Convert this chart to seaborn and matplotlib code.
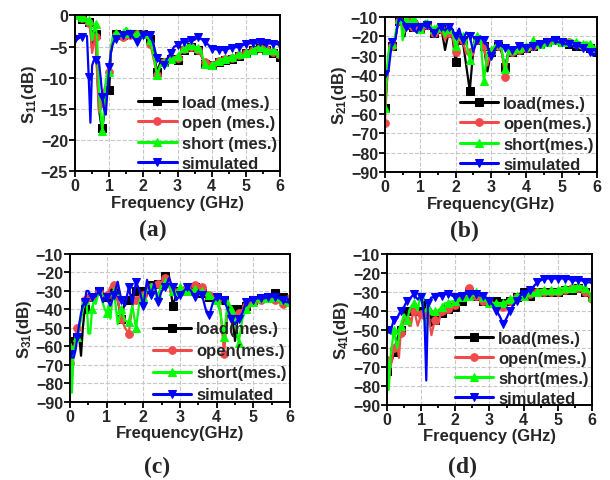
import numpy as np
import pandas as pd
import matplotlib
matplotlib.use("Agg")
import matplotlib.pyplot as plt
import seaborn as sns

# frequency grid (GHz), shared by all four panels
FREQ = [0.0, 0.05, 0.1, 0.15, 0.2, 0.25, 0.3, 0.35, 0.4, 0.45, 0.5, 0.55,
        0.6, 0.65, 0.7, 0.75, 0.8, 0.85, 0.9, 0.95, 1.0, 1.05, 1.1, 1.15, 1.2,
        1.3, 1.4, 1.5, 1.6, 1.7, 1.8, 1.9,
        2.0, 2.1, 2.2, 2.3, 2.4, 2.5, 2.6, 2.7, 2.8, 2.9,
        3.0, 3.1, 3.2, 3.3, 3.4, 3.5, 3.6, 3.7, 3.8, 3.9,
        4.0, 4.1, 4.2, 4.3, 4.4, 4.5, 4.6, 4.7, 4.8, 4.9,
        5.0, 5.1, 5.2, 5.3, 5.4, 5.5, 5.6, 5.7, 5.8, 5.9,
        6.0]

# (a) S11
s11_load = [0, -0.2, -0.3, -0.4, -0.5, -0.5, -0.6, -0.8, -1.0, -2.0, -5.5, -4.0,
            -3.0, -9.0, -15.0, -17.0, -18.0, -16.0, -12.5, -12.0, -12.0, -6.0, -4.0, -3.2, -3.0,
            -3.0, -3.2, -3.5, -3.0, -3.2, -3.0, -2.8,
            -3.0, -3.2, -3.8, -6.0, -9.0, -7.5, -7.5, -7.3, -7.0, -7.0,
            -7.2, -6.0, -5.5, -5.0, -5.0, -5.2, -5.5, -6.5, -7.8, -8.5,
            -8.0, -7.8, -7.5, -7.5, -7.2, -7.0, -7.0, -6.8, -6.5, -6.3,
            -6.0, -5.8, -5.5, -5.3, -5.2, -5.3, -5.5, -5.8, -6.0, -6.2,
            -6.7]
s11_open = [0, -0.2, -0.3, -0.3, -0.4, -0.5, -0.5, -0.7, -1.2, -2.5, -6.0, -4.5,
            -3.5, -10.0, -15.5, -15.0, -14.0, -12.0, -11.0, -10.5, -9.0, -5.0, -4.0, -3.5, -3.2,
            -3.3, -3.5, -3.8, -3.2, -3.0, -3.0, -3.0,
            -3.0, -3.3, -4.5, -7.0, -9.5, -8.0, -7.5, -7.2, -7.0, -6.8,
            -6.8, -6.0, -5.3, -5.0, -5.0, -5.0, -5.5, -6.5, -7.5, -8.3,
            -8.0, -7.5, -7.3, -7.2, -7.0, -7.0, -6.8, -6.5, -6.3, -6.2,
            -6.0, -5.7, -5.5, -5.3, -5.2, -5.2, -5.4, -5.6, -5.8, -6.0,
            -6.3]
s11_short = [0, 0, -0.2, -0.3, -0.3, -0.3, -0.4, -0.5, -0.8, -1.5, -4.0, -2.5,
             -1.3, -4.0, -12.0, -16.0, -18.5, -15.0, -10.5, -9.5, -9.0, -5.5, -3.5, -3.0, -2.8,
             -3.0, -2.8, -2.0, -2.8, -3.0, -3.0, -2.8,
             -3.0, -3.2, -4.0, -6.5, -9.5, -8.0, -7.5, -7.2, -7.0, -6.8,
             -6.5, -5.8, -5.2, -4.8, -4.8, -5.0, -5.2, -6.0, -7.8, -8.3,
             -8.0, -7.6, -7.3, -7.0, -7.0, -6.8, -6.6, -6.5, -6.2, -6.5,
             -6.0, -5.8, -5.5, -5.2, -5.0, -5.2, -5.5, -5.6, -5.6, -5.8,
             -6.0]
s11_sim = [-3.8, -3.9, -3.7, -3.5, -3.4, -3.3, -3.2, -3.3, -9.8, -17.2, -8.0, -7.2,
           -7.2, -7.3, -7.4, -10.0, -13.0, -15.0, -15.9, -12.0, -8.2, -6.0, -4.7, -4.0, -3.7,
           -3.4, -3.2, -3.0, -2.9, -3.5, -4.2, -3.5,
           -3.1, -3.1, -3.1, -4.7, -6.9, -7.5, -7.9, -6.9, -6.0, -5.0,
           -4.8, -4.2, -4.3, -4.2, -4.0, -3.9, -3.4, -3.8, -4.2, -4.7,
           -5.3, -5.4, -5.5, -5.5, -5.5, -5.3, -5.2, -5.1, -5.0, -4.8,
           -4.6, -4.5, -4.4, -4.4, -4.3, -4.4, -4.4, -4.5, -4.5, -4.6,
           -4.7]

# (b) S21
s21_load = [-57, -45, -30, -27, -25, -24, -20, -15, -12, -11, -15, -20,
            -14, -12, -11, -13, -15, -14, -12, -14, -16, -15, -14, -13, -14,
            -15, -18, -15, -16, -27, -18, -19,
            -33, -20, -22, -35, -48, -27, -22, -22, -25, -38,
            -28, -26, -25, -28, -36, -27, -28, -27, -27, -26,
            -26, -26, -25, -25, -24, -23, -23, -22, -22, -23,
            -23, -23, -24, -24, -25, -25, -25, -25, -26, -27,
            -28]
s21_open = [-64.5, -45, -30, -27, -25, -24, -20, -15, -12, -11, -14, -18,
            -14, -12, -11, -13, -15, -14, -12, -14, -16, -15, -14, -13, -14,
            -15, -18, -15, -16, -22, -18, -19,
            -28, -20, -22, -29, -28, -25, -22, -22, -25, -35,
            -28, -26, -25, -27, -41, -28, -28, -27, -27, -26,
            -26, -26, -25, -25, -24, -23, -23, -22, -22, -23,
            -23, -23, -23, -24, -24, -25, -25, -25, -26, -26,
            -27]
s21_short = [-56.8, -40, -28, -25, -24, -24, -18, -14, -11, -12, -22, -16,
             -11, -12, -14, -12, -11, -10, -13, -15, -16, -14, -13, -12, -13,
             -15, -16, -14, -15, -20, -16, -17,
             -25, -18, -20, -23, -32, -25, -20, -20, -43, -28,
             -27, -25, -24, -26, -37, -27, -27, -26, -26, -25,
             -25, -24, -22, -24, -24, -23, -23, -22, -22, -22,
             -23, -22, -23, -22, -23, -23, -24, -23, -24, -25,
             -26]
s21_sim = [-39.6, -39, -38, -30, -23, -22, -21, -15, -10, -11, -12, -13,
           -15, -16, -14, -15, -15, -17, -18, -16, -15, -14, -14, -15, -14,
           -16, -18, -16, -15, -17, -15, -16,
           -20, -16, -22, -18, -20, -28, -22, -20, -22, -25,
           -30, -27, -24, -25, -26, -26, -27, -26, -25, -25,
           -26, -25, -25, -24, -24, -23, -23, -22, -22, -23,
           -23, -24, -24, -25, -25, -25, -26, -27, -28, -30,
           -28]

# (c) S31
s31_load = [-57, -58, -60, -57, -55, -55, -65, -50, -40, -33, -32, -32,
            -33, -35, -35, -32, -30, -31, -32, -33, -33, -32, -30, -30, -30,
            -35, -45, -35, -35, -32, -30, -32,
            -30, -28, -27, -28, -26, -25, -22, -22, -38, -32,
            -30, -30, -30, -29, -28, -30, -31, -32, -33, -33,
            -33, -34, -35, -38, -40, -57, -40, -40, -38, -36,
            -35, -35, -34, -34, -33, -32, -31, -32, -33, -34,
            -35]
s31_open = [-69, -65, -62, -55, -50, -48, -45, -40, -35, -33, -32, -32,
            -33, -34, -33, -32, -30, -31, -32, -32, -32, -30, -28, -27, -27,
            -35, -45, -50, -53, -38, -35, -33,
            -32, -30, -28, -27, -26, -25, -23, -24, -30, -30,
            -30, -28, -29, -27, -27, -27, -28, -30, -32, -33,
            -35, -40, -64, -40, -42, -45, -42, -40, -38, -37,
            -36, -35, -35, -34, -34, -34, -35, -36, -37, -35,
            -34]
s31_short = [-60, -85, -62, -58, -55, -50, -45, -40, -35, -35, -53, -53,
             -40, -35, -37, -33, -30, -33, -37, -40, -42, -38, -45, -35, -30,
             -48, -40, -46, -47, -38, -50, -35,
             -33, -30, -28, -31, -32, -27, -25, -28, -30, -32,
             -28, -29, -30, -30, -29, -30, -30, -31, -32, -34,
             -35, -42, -55, -35, -40, -45, -58, -45, -40, -38,
             -36, -35, -34, -34, -34, -33, -33, -34, -35, -36,
             -36]
s31_sim = [-64, -66, -66, -62, -55, -48, -42, -38, -36, -30, -30, -32,
           -33, -33, -33, -31, -30, -33, -36, -34, -33, -36, -38, -35, -32,
           -25, -35, -38, -28, -37, -25, -30,
           -38, -24, -32, -26, -36, -30, -28, -23, -28, -35,
           -32, -30, -28, -30, -33, -30, -32, -40, -43, -36,
           -33, -34, -35, -40, -45, -48, -45, -42, -36, -35,
           -35, -34, -34, -34, -33, -33, -33, -34, -35, -36,
           -36]

# (d) S41
s41_load = [-72, -70, -68, -66, -62, -58, -55, -52, -50, -47, -45, -43,
            -40, -41, -40, -40, -40, -39, -38, -39, -40, -38, -35, -40, -42,
            -48, -45, -42, -41, -40, -39, -38,
            -38, -37, -35, -33, -30, -31, -32, -34, -35, -35,
            -35, -35, -35, -35, -36, -35, -35, -34, -33, -31,
            -30, -31, -32, -31, -30, -30, -30, -30, -30, -30,
            -30, -29, -29, -29, -29, -28, -28, -29, -30, -31,
            -33]
s41_open = [-66, -78, -70, -66, -60, -58, -58, -65, -52, -48, -45, -44,
            -45, -48, -48, -42, -40, -44, -48, -45, -42, -44, -45, -42, -40,
            -53, -45, -47, -40, -40, -39, -38,
            -37, -35, -33, -30, -28, -30, -32, -34, -35, -36,
            -36, -37, -37, -38, -38, -36, -35, -34, -33, -32,
            -32, -31, -31, -30, -30, -30, -30, -30, -30, -30,
            -30, -29, -29, -28, -28, -28, -28, -29, -30, -32,
            -34]
s41_short = [-68, -82, -65, -58, -50, -55, -60, -54, -48, -45, -42, -44,
             -45, -40, -38, -37, -36, -38, -40, -35, -32, -38, -45, -62, -38,
             -42, -40, -40, -38, -36, -36, -35,
             -35, -34, -33, -32, -32, -31, -30, -32, -33, -35,
             -36, -36, -36, -36, -36, -35, -34, -33, -32, -32,
             -32, -31, -30, -31, -30, -29, -29, -30, -29, -29,
             -29, -28, -28, -28, -28, -27, -27, -27, -28, -30,
             -33]
s41_sim = [-50, -51, -52, -48, -45, -44, -44, -42, -40, -39, -38, -36,
           -35, -34, -33, -32, -31, -33, -34, -33, -33, -38, -45, -77, -36,
           -33, -33, -32, -32, -31, -31, -32,
           -33, -32, -32, -31, -31, -31, -31, -32, -32, -33,
           -35, -37, -40, -43, -47, -44, -40, -37, -35, -32,
           -31, -30, -29, -27, -25, -24, -23, -23, -23, -23,
           -23, -23, -23, -23, -24, -24, -24, -24, -25, -25,
           -25]

SERIES = ["load", "open", "short", "simulated"]
COLORS = ["#000000", "#F24A4A", "#00FF00", "#0000FF"]
MARKERS = ["s", "o", "^", "v"]

sns.set_theme(style="ticks")
plt.rcParams["font.family"] = ["Liberation Sans", "DejaVu Sans"]
plt.rcParams["font.weight"] = "bold"
plt.rcParams["axes.labelweight"] = "bold"
plt.rcParams["mathtext.fontset"] = "custom"
plt.rcParams["mathtext.rm"] = "Liberation Sans:bold"
plt.rcParams["mathtext.bf"] = "Liberation Sans:bold"
plt.rcParams["mathtext.default"] = "bf"

fig = plt.figure(figsize=(6.1, 4.81), dpi=100)

panels = [
    dict(rect=[0.1230, 0.6418, 0.3361, 0.3239], data=[s11_load, s11_open, s11_short, s11_sim],
         ylab=r"S$_{11}$(dB)", xlab="Frequency (GHz)", ylim=(-25, 0), ystep=5,
         labels=["load (mes.)", "open (mes.)", "short (mes.)", "simulated"], tag="(a)",
         tagpos=(0.251, 0.520), anchor=(1.0, -0.02), spacing=0.33),
    dict(rect=[0.6311, 0.6397, 0.3475, 0.3229], data=[s21_load, s21_open, s21_short, s21_sim],
         ylab=r"S$_{21}$(dB)", xlab="Frequency(GHz)", ylim=(-90, -10), ystep=10,
         labels=["load(mes.)", "open(mes.)", "short(mes.)", "simulated"], tag="(b)",
         tagpos=(0.762, 0.518), anchor=(1.0, -0.02), spacing=0.33),
    dict(rect=[0.1148, 0.1622, 0.3607, 0.3077], data=[s31_load, s31_open, s31_short, s31_sim],
         ylab=r"S$_{31}$(dB)", xlab="Frequency(GHz)", ylim=(-90, -10), ystep=10,
         labels=["load(mes.)", "open(mes.)", "short(mes.)", "simulated"], tag="(c)",
         tagpos=(0.257, 0.029), anchor=(1.0, -0.025), spacing=0.42),
    dict(rect=[0.6344, 0.1559, 0.3361, 0.3139], data=[s41_load, s41_open, s41_short, s41_sim],
         ylab=r"S$_{41}$(dB)", xlab="Frequency (GHz)", ylim=(-90, -10), ystep=10,
         labels=["load(mes.)", "open(mes.)", "short(mes.)", "simulated"], tag="(d)",
         tagpos=(0.759, 0.029), anchor=(1.0, -0.03), spacing=0.3),
]

# markers every 0.2 GHz
mark_idx = [i for i, f in enumerate(FREQ) if round(f * 10) % 2 == 0 and abs(f * 10 - round(f * 10)) < 1e-6]

for p in panels:
    ax = fig.add_axes(p["rect"])
    frames = []
    for name, vals in zip(SERIES, p["data"]):
        assert len(vals) == len(FREQ), (p["tag"], name, len(vals))
        frames.append(pd.DataFrame({"freq": FREQ, "val": vals, "series": name}))
    df = pd.concat(frames, ignore_index=True)
    sns.lineplot(data=df, x="freq", y="val", hue="series", style="series",
                 hue_order=SERIES, style_order=SERIES, palette=COLORS,
                 markers=dict(zip(SERIES, MARKERS)), dashes=False,
                 estimator=None, sort=False, legend=False, ax=ax,
                 linewidth=1.6, markersize=5.5, markevery=mark_idx)
    for ln, c in zip(ax.lines, COLORS):
        ln.set_markeredgecolor(c)
        ln.set_markerfacecolor(c)

    ax.set_xlim(0, 6)
    ax.set_ylim(*p["ylim"])
    ax.set_xticks(range(0, 7))
    ax.set_xticks(np.arange(0.5, 6, 1.0), minor=True)
    ax.set_yticks(np.arange(p["ylim"][0], p["ylim"][1] + 0.1, p["ystep"]))
    ax.grid(True, which="major", linestyle="--", color="#c8c8c8", linewidth=0.8)
    ax.tick_params(which="both", direction="out", top=False, right=False,
                   labelsize=11.5, width=1.3, color="black", pad=1)
    ax.tick_params(which="major", length=4)
    ax.tick_params(which="minor", length=2.5)
    for lab in ax.get_xticklabels() + ax.get_yticklabels():
        lab.set_fontweight("bold")
    for sp in ax.spines.values():
        sp.set_visible(True)
        sp.set_linewidth(1.4)
        sp.set_color("black")
    ax.set_xlabel(p["xlab"], fontsize=12, fontweight="bold", labelpad=1)
    ax.set_ylabel(p["ylab"], fontsize=12, fontweight="bold", labelpad=1)

    leg = ax.legend(handles=ax.lines[:4], labels=p["labels"], loc="lower right",
                    bbox_to_anchor=p["anchor"], frameon=False, numpoints=1,
                    handlelength=2.3, handletextpad=0.3, labelspacing=p["spacing"],
                    borderaxespad=0.0, borderpad=0.2,
                    prop={"weight": "bold", "size": 12})
    for h in leg.legend_handles:
        h.set_linewidth(2.2)
        h.set_markevery([1])
        h.set_markersize(5.5)

    fig.text(p["tagpos"][0], p["tagpos"][1], p["tag"], ha="center", va="center",
             fontsize=17, fontweight="bold", family=["Liberation Serif", "DejaVu Serif"])

fig.savefig("out.png", dpi=100)
